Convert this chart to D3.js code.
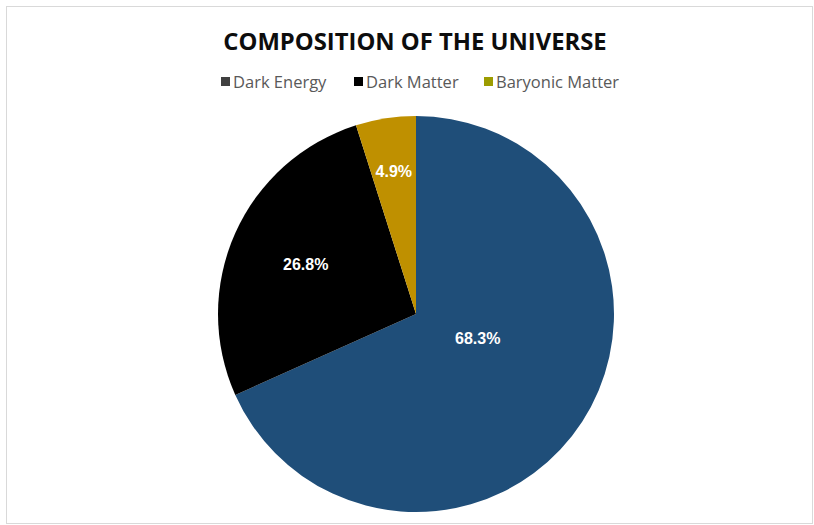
<!DOCTYPE html>
<html>
<head>
<meta charset="utf-8">
<script src="https://cdn.jsdelivr.net/npm/d3@7"></script>
<style>
  html, body { margin: 0; padding: 0; background: #fff; }
  svg { display: block; }
</style>
</head>
<body>
<svg id="chart" width="814" height="525"></svg>
<script>
// ---- data ----
const categories = ["Dark Energy", "Dark Matter", "Baryonic Matter"];
const values = [68.3, 26.8, 4.9];
const valueLabels = ["68.3%", "26.8%", "4.9%"];
const title = "COMPOSITION OF THE UNIVERSE";

// ---- styles ----
const sliceColors = ["#1f4e79", "#000000", "#bf9000"];
const legendColors = ["#404040", "#000000", "#9c9c00"];
const labelRadiusFrac = [0.335, 0.61, 0.73];
const labelAngleShift = [-0.2, 0, 0];

const svg = d3.select("#chart");
const W = 814, H = 525;

svg.append("rect").attr("x", 6.5).attr("y", 6.5).attr("width", W - 8).attr("height", H - 8)
  .attr("fill", "#fff").attr("stroke", "#d9d9d9").attr("stroke-width", 1);

svg.append("text").attr("x", 415).attr("y", 50).attr("text-anchor", "middle")
  .attr("font-family", "'Open Sans', sans-serif").attr("font-weight", "bold")
  .attr("font-size", 23.8).attr("fill", "#0d0d0d").text(title);

// legend
const legendX = [221, 354, 484];
const lg = svg.append("g");
categories.forEach((c, i) => {
  lg.append("rect").attr("x", legendX[i]).attr("y", 77).attr("width", 9).attr("height", 9)
    .attr("fill", legendColors[i]);
  lg.append("text").attr("x", legendX[i] + 12).attr("y", 88)
    .attr("font-family", "'Open Sans', sans-serif").attr("font-size", 16.5)
    .attr("fill", "#595959").text(c);
});

// pie
const cx = 416, cy = 314, R = 198;
const pie = d3.pie().sort(null).value(d => d)(values);
const arc = d3.arc().innerRadius(0).outerRadius(R);
const g = svg.append("g").attr("transform", `translate(${cx},${cy})`);
g.selectAll("path").data(pie).enter().append("path")
  .attr("d", arc).attr("fill", (d, i) => sliceColors[i]);

g.selectAll("text.lbl").data(pie).enter().append("text").attr("class", "lbl")
  .attr("transform", (d, i) => {
    const r = R * labelRadiusFrac[i];
    const a = (d.startAngle + d.endAngle) / 2 + labelAngleShift[i];
    return `translate(${r * Math.sin(a)},${-r * Math.cos(a)})`;
  })
  .attr("text-anchor", "middle").attr("dy", "0.36em")
  .attr("font-family", "'Liberation Sans', Arial, sans-serif").attr("font-weight", "bold")
  .attr("font-size", 16).attr("fill", "#ffffff")
  .text((d, i) => valueLabels[i]);
</script>
</body>
</html>
